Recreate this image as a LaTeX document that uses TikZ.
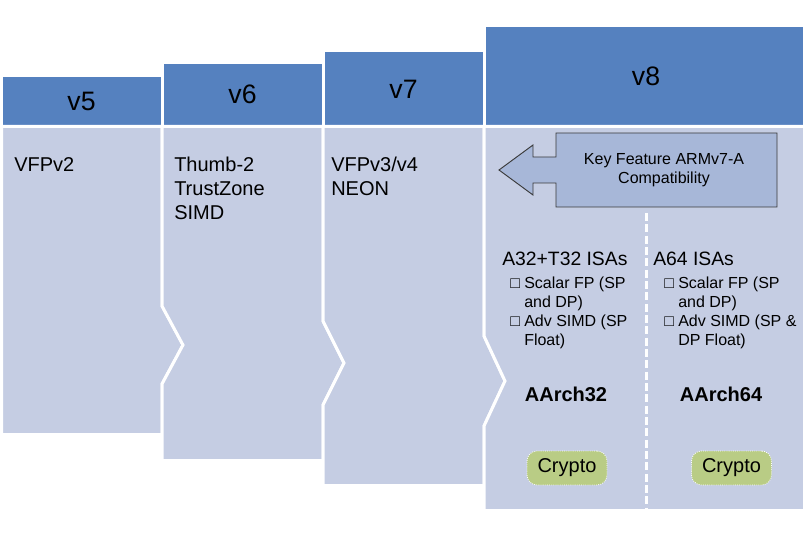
\documentclass[tikz,border=0pt]{standalone}
\usepackage{fontspec}
\setmainfont{Liberation Sans}
\definecolor{hdr}{HTML}{5581BF}
\definecolor{bod}{HTML}{C5CDE3}
\definecolor{arrfill}{HTML}{A7B7D8}
\definecolor{cry}{HTML}{B9CC85}
\definecolor{edge}{HTML}{3A3A3A}
\begin{document}
\begin{tikzpicture}[x=0.75pt,y=-0.75pt,
  hdrbox/.style={fill=hdr,draw=white,line width=2.25pt},
  bodbox/.style={fill=bod,draw=white,line width=2.25pt},
  hdrtxt/.style={font=\fontsize{20}{24}\selectfont,inner sep=0pt},
  bodtxt/.style={font=\fontsize{15}{18}\selectfont,anchor=base west,inner sep=0pt},
  isatxt/.style={font=\fontsize{14.5}{17}\selectfont,anchor=base west,inner sep=0pt},
  bultxt/.style={font=\fontsize{12}{14}\selectfont,anchor=base west,inner sep=0pt},
  keytxt/.style={font=\fontsize{12}{14}\selectfont,anchor=base,inner sep=0pt},
  archtxt/.style={font=\fontsize{15}{18}\selectfont\bfseries,anchor=base,inner sep=0pt},
  cryptobox/.style={fill=cry,draw=white,densely dotted,line width=0.6pt,rounded corners=7.5pt,
    minimum width=60pt,minimum height=25.5pt,inner sep=0pt,font=\fontsize{15}{18}\selectfont},
  keyarrow/.style={fill=arrfill,draw=edge,line width=0.7pt,line join=miter},
  divider/.style={draw=white,line width=2.25pt,dash pattern=on 6pt off 2.5pt}
]
\useasboundingbox (0,0) rectangle (807,538);

% headers
\path[hdrbox] (1.5,75.5) rectangle (162,126.5);
\path[hdrbox] (162,62.5) rectangle (323,126.5);
\path[hdrbox] (323,50.5) rectangle (484,126.5);
\path[hdrbox] (484,25.5) rectangle (804.5,126.5);

% bodies
\path[bodbox] (1.5,126.5) -- (162,126.5) -- (162,306) -- (183,345) -- (162,384)
  -- (162,434.5) -- (1.5,434.5) -- cycle;
\path[bodbox] (162,126.5) -- (323,126.5) -- (323,321) -- (344,363) -- (323,405)
  -- (323,460.5) -- (162,460.5) -- (162,384) -- (183,345) -- (162,306) -- cycle;
\path[bodbox] (323,126.5) -- (484,126.5) -- (484,336) -- (505,381) -- (484,426)
  -- (484,485.5) -- (323,485.5) -- (323,405) -- (344,363) -- (323,321) -- cycle;
\path[bodbox] (484,126.5) -- (804.5,126.5) -- (804.5,510.5) -- (484,510.5)
  -- (484,426) -- (505,381) -- (484,336) -- cycle;

% header labels
\node[hdrtxt] (h5) at (81.5,101) {v5};
\node[hdrtxt] (h6) at (242.5,94.5) {v6};
\node[hdrtxt] (h7) at (403.5,89) {v7};
\node[hdrtxt] (h8) at (646,76.5) {v8};

% body labels
\node[bodtxt] (b5a) at (14,172) {VFPv2};
\node[bodtxt] (b6a) at (174,172) {Thumb-2};
\node[bodtxt] (b6b) at (174,196) {TrustZone};
\node[bodtxt] (b6c) at (174,220) {SIMD};
\node[bodtxt] (b7a) at (331,172) {VFPv3/v4};
\node[bodtxt] (b7b) at (331,196) {NEON};

% key feature arrow
\path[keyarrow] (499,170) -- (533,145) -- (533,157) -- (556,157) -- (556,133)
  -- (777,133) -- (777,207) -- (556,207) -- (556,183) -- (533,183) -- (533,195) -- cycle;
\node[keytxt] (k1) at (664,165) {Key Feature ARMv7-A};
\node[keytxt] (k2) at (664,184) {Compatibility};

% divider
\coordinate (dtop) at (646,213);
\coordinate (dbot) at (646,508);
\path[divider] (dtop) -- (dbot);

% A32+T32 column
\node[isatxt] (i32) at (502,266) {A32+T32 ISAs};
\node[bultxt] (s32a) at (510,289) {□};
\node[bultxt] (s32b) at (524,289) {Scalar FP (SP};
\node[bultxt] (s32c) at (524,308) {and DP)};
\node[bultxt] (a32a) at (510,327) {□};
\node[bultxt] (a32b) at (524,327) {Adv SIMD (SP};
\node[bultxt] (a32c) at (524,346) {Float)};

% A64 column
\node[isatxt] (i64) at (653,266) {A64 ISAs};
\node[bultxt] (s64a) at (664,289) {□};
\node[bultxt] (s64b) at (678,289) {Scalar FP (SP};
\node[bultxt] (s64c) at (678,308) {and DP)};
\node[bultxt] (a64a) at (664,327) {□};
\node[bultxt] (a64b) at (678,327) {Adv SIMD (SP \&};
\node[bultxt] (a64c) at (678,346) {DP Float)};

% arch labels
\node[archtxt] (ar32) at (566,402) {AArch32};
\node[archtxt] (ar64) at (721,402) {AArch64};

% crypto boxes
\node[cryptobox] (c32) at (567,468) {Crypto};
\node[cryptobox] (c64) at (731.5,468) {Crypto};
\end{tikzpicture}
\end{document}
